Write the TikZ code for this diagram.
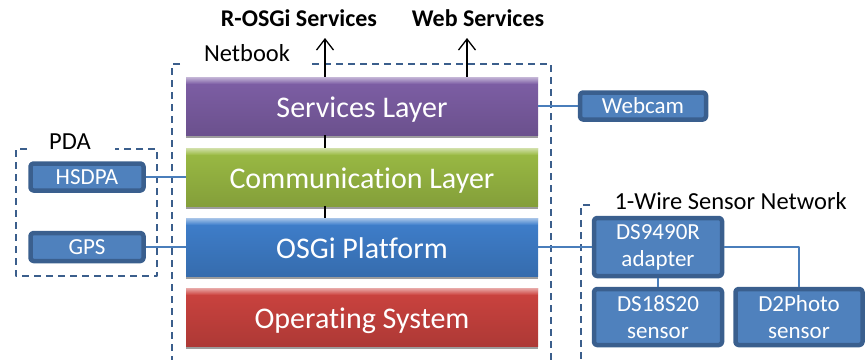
\documentclass[tikz,border=0pt]{standalone}
\usepackage{fontspec}
\setmainfont{Carlito}[Ligatures=NoCommon]
\usetikzlibrary{arrows.meta,shadows}
\definecolor{boxborder}{HTML}{3A5F8E}
\definecolor{boxfill}{HTML}{4F81BD}
\definecolor{groupblue}{HTML}{3B5E8C}
\definecolor{linkblue}{HTML}{4A7EBB}
\definecolor{svcpurple}{HTML}{7E5FA6}
\definecolor{commgreen}{HTML}{9BBB44}
\definecolor{osgiblue}{HTML}{3F7FCC}
\definecolor{osred}{HTML}{CC433F}

\begin{document}
\begin{tikzpicture}[x=1pt,y=-1pt,line join=round,>={Straight Barb[length=11pt,width=17pt]},
  layer/.style={minimum width=352pt,minimum height=58pt,inner sep=0pt,text=white,
    text height=25pt,text depth=3pt,
    font=\fontsize{30}{32}\selectfont,top color=#1,bottom color=#1!85!black,
    drop shadow={shadow xshift=0pt,shadow yshift=-3pt,fill=black!55,opacity=0.7},
    path picture={\foreach \i in {0,...,6}{\pgfmathtruncatemacro\p{45+\i*8}
      \fill[#1!\p!white] ([yshift=-\i pt]path picture bounding box.north west)
        rectangle ([yshift=-\i pt-1.05pt]path picture bounding box.north east);}}},
  unit/.style={draw=boxborder,line width=4.5pt,fill=boxfill,rounded corners=3pt,inner sep=0pt,
    text=white,font=\fontsize{23}{27}\selectfont,align=center},
  group/.style={draw=groupblue,dash pattern=on 7pt off 5pt,line width=1.5pt},
  link/.style={draw=linkblue,line width=1.5pt},
  grouplabel/.style={font=\fontsize{24.5}{26}\selectfont},
  service/.style={font=\bfseries\fontsize{24}{26}\selectfont}]
\useasboundingbox (0,0) rectangle (867,360);

%ryhmat
\draw[group] (312,64) -- (551,64) -- (551,360);
\draw[group] (180,64) -- (172,64) -- (172,360);
\node[grouplabel] (netbook) at (247,53) {Netbook};
\draw[group] (27,149) -- (16,149) -- (16,276) -- (157,276) -- (157,149) -- (115,149);
\node[grouplabel] (pda) at (70,142) {PDA};
\draw[group] (590,205) -- (581,205) -- (581,360);
\node[grouplabel,anchor=west] (wire) at (611,201) {1-Wire Sensor Network};

%kerrokset
\foreach \n/\t/\c/\y in {svc/Services Layer/svcpurple/106,comm/Communication Layer/commgreen/177,
  osgi/OSGi Platform/osgiblue/247,os/Operating System/osred/317}
{
\node[layer=\c] (\n) at (362,\y) {\t};
}

%laitteet
\node[unit,minimum width=126pt,minimum height=27pt] (webcam) at (643,106) {Webcam};
\node[unit,minimum width=113pt,minimum height=27pt] (hsdpa) at (87,177) {HSDPA};
\node[unit,minimum width=113pt,minimum height=28pt] (gps) at (87,247) {GPS};
\node[unit,minimum width=128pt,minimum height=58pt] (adapter) at (658,247) {DS9490R\\adapter};
\node[unit,minimum width=128pt,minimum height=56pt] (ds18) at (658,317) {DS18S20\\sensor};
\node[unit,minimum width=127pt,minimum height=56pt] (photo) at (799,317) {D2Photo\\sensor};

%yhteydet
\draw[link] (svc.east) -- (webcam.west);
\draw[link] (hsdpa.east) -- (comm.west);
\draw[link] (gps.east) -- (osgi.west);
\draw[link] (osgi.east) -- (adapter.west);
\draw[link] (adapter.south) -- (ds18.north);
\draw[link] (adapter.east) -| (photo.north);

%palvelut
\coordinate (rtip) at (325,38);
\coordinate (wtip) at (467,38);
\draw[->,line width=1.3pt] (svc.north -| rtip) -- (rtip);
\draw[->,line width=1.3pt] (svc.north -| wtip) -- (wtip);
\draw[line width=1.3pt] (svc.south -| rtip) -- (comm.north -| rtip);
\draw[line width=1.3pt] (comm.south -| rtip) -- (osgi.north -| rtip);
\node[service] (rosgi) at (299,18) {R-OSGi Services};
\node[service] (websvc) at (478,18) {Web Services};
\end{tikzpicture}
\end{document}
